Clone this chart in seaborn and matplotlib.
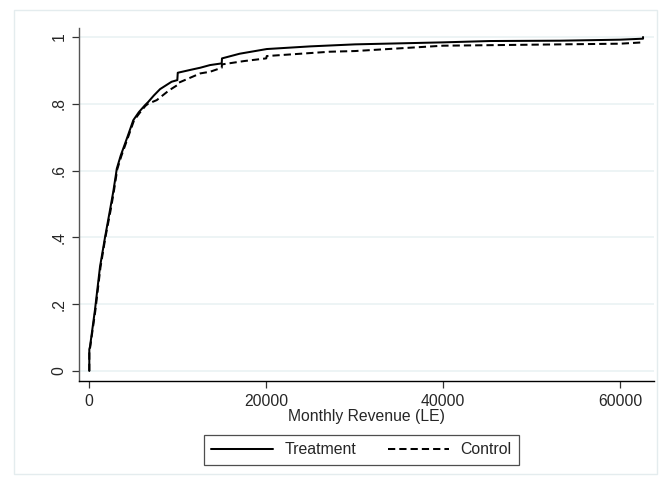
import pandas as pd
import matplotlib.pyplot as plt
import seaborn as sns
from matplotlib.patches import Rectangle

# CDF of monthly revenue
treat_x = [0, 0, 80, 640, 1210, 1775, 2340, 2710, 3020, 3100, 3550, 4300, 4975, 5600, 6300,
           6640, 7300, 8000, 9300, 9950, 10000, 11500, 12540, 13650, 14970, 15000, 17000,
           20060, 25000, 30040, 40000, 45300, 53200, 60000, 62600, 62600]
treat_y = [0, 0.065, 0.073, 0.183, 0.312, 0.40, 0.482, 0.537, 0.59, 0.605, 0.645, 0.70, 0.751,
           0.775, 0.796, 0.805, 0.825, 0.844, 0.866, 0.871, 0.893, 0.902, 0.908, 0.916,
           0.921, 0.936, 0.950, 0.964, 0.972, 0.978, 0.984, 0.988, 0.989, 0.992, 0.995, 1.0]

ctrl_x = [0, 0, 90, 680, 1260, 1820, 2400, 2760, 3080, 3150, 3600, 4380, 5050, 5700, 6350,
          6640, 7620, 9000, 9950, 10000, 12540, 13650, 14970, 15000, 17500, 20000, 20060,
          27200, 30040, 40000, 50000, 60000, 62600]
ctrl_y = [0, 0.06, 0.07, 0.18, 0.31, 0.40, 0.48, 0.535, 0.59, 0.603, 0.642, 0.70, 0.75,
          0.773, 0.794, 0.80, 0.811, 0.840, 0.856, 0.862, 0.891, 0.896, 0.908, 0.918,
          0.928, 0.936, 0.943, 0.956, 0.958, 0.974, 0.977, 0.980, 0.984]

x_ticks = [0, 20000, 40000, 60000]
y_ticks = [0, 0.2, 0.4, 0.6, 0.8, 1.0]
y_tick_labels = ["0", ".2", ".4", ".6", ".8", "1"]

df = pd.concat([
    pd.DataFrame({"rev": treat_x, "cdf": treat_y, "group": "Treatment"}),
    pd.DataFrame({"rev": ctrl_x, "cdf": ctrl_y, "group": "Control"}),
], ignore_index=True)

sns.set_style("white")
plt.rcParams["font.family"] = ["Liberation Sans", "DejaVu Sans"]
FS = 11.3

fig = plt.figure(figsize=(6.6, 4.84), dpi=100)
ax = fig.add_axes([79 / 660, 1 - 381 / 484, (654 - 79) / 660, (381 - 28) / 484])

sns.lineplot(data=df, x="rev", y="cdf", hue="group", style="group",
             palette={"Treatment": "black", "Control": "black"},
             dashes={"Treatment": "", "Control": (3.6, 2.0)},
             estimator=None, sort=False, linewidth=1.45, ax=ax)

ax.set_xlim(-1165, 63840)
ax.set_ylim(-0.03, 1.027)
ax.set_xticks(x_ticks)
ax.set_xticklabels([str(t) for t in x_ticks], fontsize=FS)
ax.set_yticks(y_ticks)
ax.set_yticklabels(y_tick_labels, fontsize=FS, rotation=90, va="center")
ax.tick_params(axis="both", direction="out", length=5, width=0.9, color="#333333",
               left=True, bottom=True)
ax.tick_params(axis="x", pad=4)
ax.tick_params(axis="y", pad=4)
ax.grid(axis="y", color="#eaf2f3", linewidth=1.2)
ax.set_axisbelow(True)

for side in ["top", "right"]:
    ax.spines[side].set_visible(False)
ax.spines["left"].set_color("#555555")
ax.spines["left"].set_linewidth(1.0)
ax.spines["bottom"].set_color("black")
ax.spines["bottom"].set_linewidth(1.0)

ax.set_xlabel("Monthly Revenue (LE)", fontsize=FS, labelpad=0)
ax.set_ylabel("")

handles, labels = ax.get_legend_handles_labels()
ax.legend_.remove()
leg = fig.legend(handles, labels, loc="center", ncol=2,
                 bbox_to_anchor=(361.5 / 660, 1 - 450 / 484),
                 fontsize=11.4, frameon=True, fancybox=False, edgecolor="#222222",
                 handlelength=3.9, handletextpad=0.7, columnspacing=2.0,
                 borderpad=0.45)
leg.get_frame().set_linewidth(0.9)

fig.add_artist(Rectangle((14 / 660, 1 - 474 / 484), (657 - 14) / 660, (474 - 10) / 484,
                         transform=fig.transFigure, fill=False,
                         edgecolor="#e4ecee", linewidth=1.0))

fig.savefig("out.png", dpi=100)
